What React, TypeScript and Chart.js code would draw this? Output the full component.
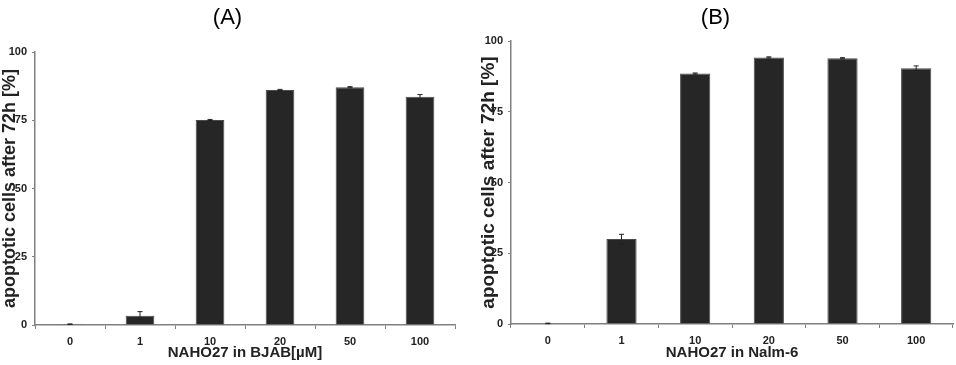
import React, { useEffect, useRef } from "react";
import { Chart, registerables } from "chart.js";

Chart.register(...registerables);

const categories = ["0", "1", "10", "20", "50", "100"];
const valuesA = [0.3, 3.4, 75.1, 86.1, 87.1, 83.6];
const errorsA = [0.1, 1.5, 0.2, 0.2, 0.2, 0.8];
const valuesB = [0.2, 30.0, 88.5, 94.2, 93.9, 90.4];
const errorsB = [0.1, 1.7, 0.2, 0.2, 0.2, 0.8];
const yTicks = [0, 25, 50, 75, 100];
const titleA = "(A)";
const titleB = "(B)";
const xTitleA = "NAHO27 in BJAB[µM]";
const xTitleB = "NAHO27 in Nalm-6";
const yTitle = "apoptotic cells after 72h [%]";

const FONT = "'Liberation Sans', Arial, sans-serif";

const errorBarPlugin = {
  id: "errorBars",
  afterDatasetsDraw(chart: any) {
    const errs: number[] = chart.options.plugins.errorBars?.errors || [];
    const meta = chart.getDatasetMeta(0);
    const ys = chart.scales.y;
    const vals = chart.data.datasets[0].data as number[];
    const ctx = chart.ctx;
    ctx.save();
    ctx.strokeStyle = "#222";
    ctx.lineWidth = 1;
    meta.data.forEach((bar: any, i: number) => {
      const e = errs[i] || 0;
      if (!e) return;
      const x = bar.x;
      const yt = ys.getPixelForValue(vals[i] + e);
      const yb = ys.getPixelForValue(Math.max(0, vals[i] - e));
      ctx.beginPath();
      ctx.moveTo(x, yt);
      ctx.lineTo(x, yb);
      ctx.moveTo(x - 2.5, yt);
      ctx.lineTo(x + 2.5, yt);
      ctx.moveTo(x - 2.5, yb);
      ctx.lineTo(x + 2.5, yb);
      ctx.stroke();
    });
    ctx.restore();
  },
};

type PanelProps = {
  values: number[];
  errors: number[];
  title: string;
  xTitle: string;
  yWidth: number;
  padRight: number;
  titlePadBottom: number;
  xHeight: number;
  yTitleSize: number;
};

function Panel(p: PanelProps) {
  const ref = useRef<HTMLCanvasElement>(null);
  useEffect(() => {
    if (!ref.current) return;
    const chart = new Chart(ref.current, {
      type: "bar",
      data: {
        labels: categories,
        datasets: [
          {
            data: p.values,
            backgroundColor: "#262626",
            borderColor: "#4a4a4a",
            borderWidth: 1,
            barPercentage: 0.41,
            categoryPercentage: 1,
          },
        ],
      },
      plugins: [errorBarPlugin],
      options: {
        animation: false,
        responsive: false,
        maintainAspectRatio: false,
        layout: { padding: { left: 0, right: p.padRight, top: 0, bottom: 0 } },
        plugins: {
          legend: { display: false },
          tooltip: { enabled: false },
          title: {
            display: true,
            text: p.title,
            color: "#000",
            font: { family: FONT, size: 22, weight: "normal" },
            padding: { top: 5, bottom: p.titlePadBottom },
          },
          errorBars: { errors: p.errors },
        } as any,
        scales: {
          x: {
            offset: true,
            grid: {
              display: true,
              drawOnChartArea: false,
              drawTicks: true,
              tickLength: 4,
              color: "#808080",
              offset: true,
            },
            border: { display: true, color: "#808080", width: 1.5 },
            ticks: {
              color: "#222",
              font: { family: FONT, size: 11, weight: "bold" },
              padding: 6,
              maxRotation: 0,
            },
            title: {
              display: true,
              text: p.xTitle,
              color: "#222",
              font: { family: FONT, size: 15, weight: "bold" },
              padding: { top: 0, bottom: 3 },
            },
            afterFit: (s: any) => {
              s.height = p.xHeight;
            },
          },
          y: {
            min: 0,
            max: 100,
            afterBuildTicks: (s: any) => {
              s.ticks = yTicks.map((v) => ({ value: v }));
            },
            grid: {
              display: true,
              drawOnChartArea: false,
              drawTicks: true,
              tickLength: 3,
              color: "#808080",
            },
            border: { display: true, color: "#808080", width: 1.5 },
            ticks: {
              color: "#222",
              font: { family: FONT, size: 11, weight: "bold" },
              padding: 5,
            },
            title: {
              display: true,
              text: yTitle,
              color: "#222",
              font: { family: FONT, size: p.yTitleSize, weight: "bold" },
              padding: { top: -1, bottom: 0 },
            },
            afterFit: (s: any) => {
              s.width = p.yWidth;
            },
          },
        },
      } as any,
    });
    return () => chart.destroy();
  }, []);
  return <canvas ref={ref} width={478} height={365} style={{ display: "block", width: 478, height: 365 }} />;
}

export default function App() {
  return (
    <div
      style={{
        position: "fixed",
        left: 0,
        top: 0,
        width: 956,
        height: 365,
        background: "#fff",
        display: "flex",
        flexDirection: "row",
      }}
    >
      <Panel
        values={valuesA}
        errors={errorsA}
        title={titleA}
        xTitle={xTitleA}
        yWidth={35}
        padRight={23}
        titlePadBottom={20.6}
        xHeight={40}
        yTitleSize={18}
      />
      <Panel
        values={valuesB}
        errors={errorsB}
        title={titleB}
        xTitle={xTitleB}
        yWidth={33}
        padRight={3}
        titlePadBottom={9.6}
        xHeight={41}
        yTitleSize={19}
      />
    </div>
  );
}
